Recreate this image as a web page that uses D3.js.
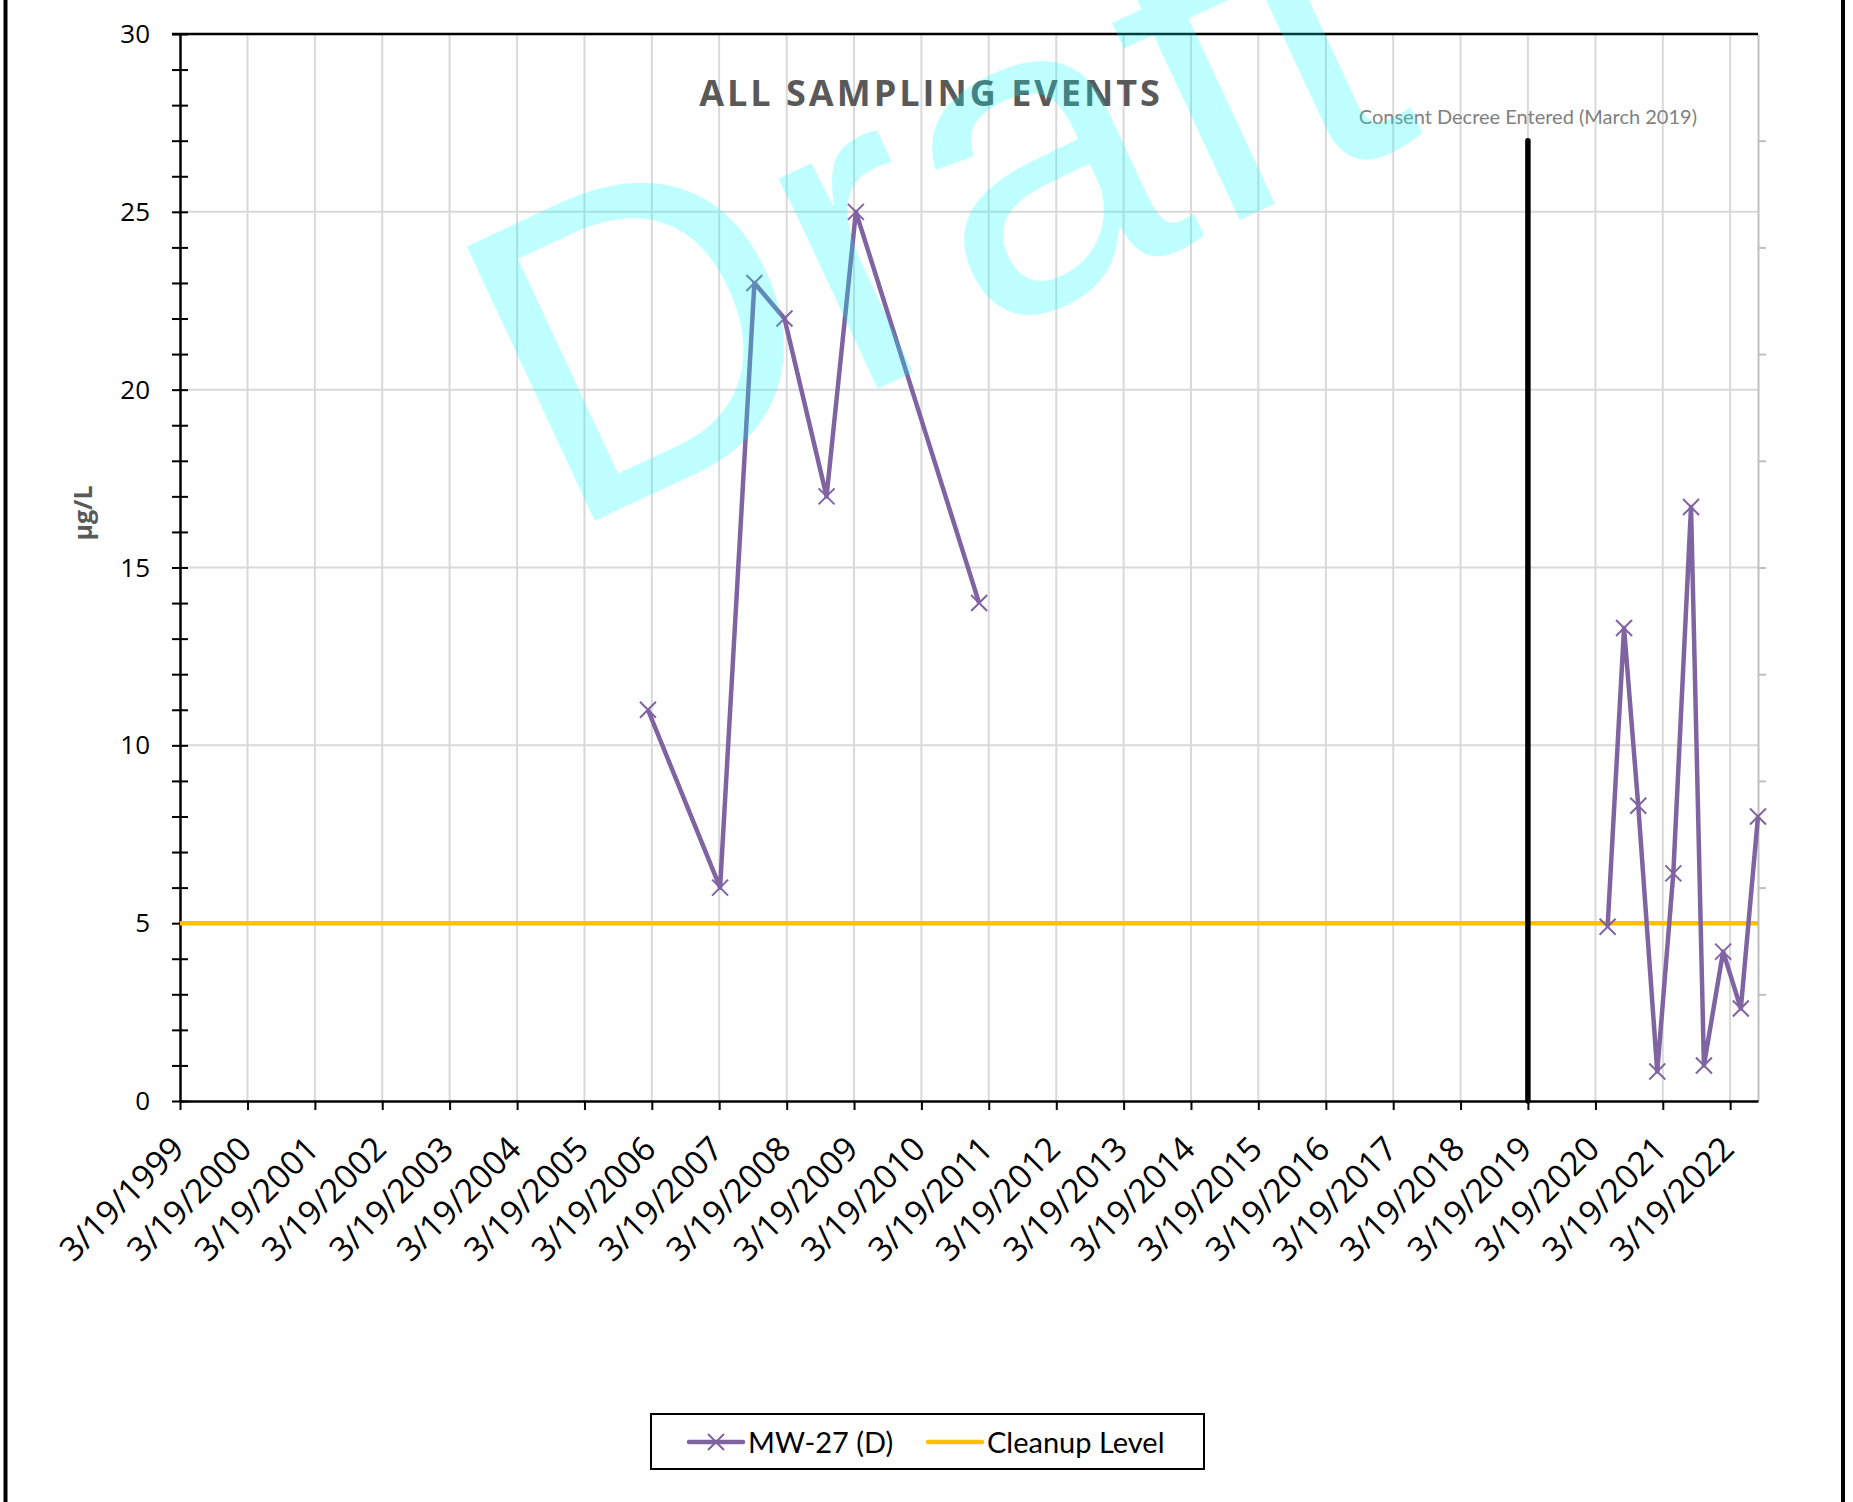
<!DOCTYPE html>
<html>
<head>
<meta charset="utf-8">
<script src="https://cdn.jsdelivr.net/npm/d3@7"></script>
<style>
  body { margin: 0; background: #fff; }
  svg { display: block; }
</style>
</head>
<body>
<div id="chart"></div>
<script>
// sampling events for MW-27 (D)
var sampleDates = ["2006-02-26", "2007-03-24", "2007-09-26", "2008-03-07", "2008-10-21", "2009-03-29", "2011-01-26",
                   "2020-05-24", "2020-08-21", "2020-11-06", "2021-02-17", "2021-05-15", "2021-08-19", "2021-10-28",
                   "2022-02-09", "2022-05-16", "2022-08-17"];
var sampleValues = [11, 6, 23, 22, 17, 25, 14,
                    4.9, 13.3, 8.3, 0.83, 6.4, 16.7, 1.0, 4.2, 2.6, 8.0];
var runStarts = [0, 7];   // line is broken between 2011 and 2020

var cleanupLevel = 5;
var consentDate = "2019-03-19";
var consentTop = 27;
var consentLabel = "Consent Decree Entered (March 2019)";

var tickYears = d3.range(1999, 2023);
var yTicks = [0, 5, 10, 15, 20, 25, 30];
var xStart = "1999-03-19", xEnd = "2022-08-17";

var parseDate = d3.timeParse("%Y-%m-%d");
var formatTick = d3.timeFormat("%-m/%-d/%Y");

var W = 1853, H = 1502;
var plotLeft = 180, plotRight = 1758, plotTop = 34, plotBottom = 1101;

var svg = d3.select("#chart").append("svg")
    .attr("width", W)
    .attr("height", H);

var x = d3.scaleTime()
    .domain([parseDate(xStart), parseDate(xEnd)])
    .range([plotLeft, plotRight]);

var y = d3.scaleLinear()
    .domain([0, 30])
    .range([plotBottom, plotTop]);

var tickDates = tickYears.map(function(yr) { return new Date(yr, 2, 19); });

// gridlines
svg.append("g").selectAll("line")
    .data(tickDates.slice(1))
    .enter().append("line")
    .attr("x1", function(d) { return x(d); })
    .attr("x2", function(d) { return x(d); })
    .attr("y1", plotTop).attr("y2", plotBottom)
    .attr("stroke", "#d9d9d9").attr("stroke-width", 2);

svg.append("g").selectAll("line")
    .data(yTicks.slice(1, -1))
    .enter().append("line")
    .attr("x1", plotLeft).attr("x2", plotRight)
    .attr("y1", function(d) { return y(d); })
    .attr("y2", function(d) { return y(d); })
    .attr("stroke", "#d9d9d9").attr("stroke-width", 2);

// secondary axis on the right (grey)
var rightAxis = svg.append("g")
    .attr("transform", "translate(" + plotRight + ",0)")
    .call(d3.axisRight(y).tickValues(d3.range(3, 30, 3)).tickFormat("").tickSize(8).tickSizeOuter(0));
rightAxis.selectAll("line, path").attr("stroke", "#bfbfbf").attr("stroke-width", 2);

// top border
svg.append("line")
    .attr("x1", plotLeft - 8).attr("x2", plotRight)
    .attr("y1", plotTop).attr("y2", plotTop)
    .attr("stroke", "#000").attr("stroke-width", 2.5);

// y axis
var yAxis = svg.append("g")
    .attr("transform", "translate(" + plotLeft + ",0)")
    .call(d3.axisLeft(y).tickValues(d3.range(0, 31, 1)).tickSize(0).tickFormat(""));
yAxis.select(".domain").attr("stroke", "#000").attr("stroke-width", 2.5);
yAxis.selectAll(".tick line")
    .attr("x1", -8).attr("x2", 8)
    .attr("stroke", "#000").attr("stroke-width", 2);

svg.append("g").selectAll("text")
    .data(yTicks)
    .enter().append("text")
    .attr("x", 150)
    .attr("y", function(d) { return y(d); })
    .attr("dy", "0.35em")
    .attr("text-anchor", "end")
    .style("font-family", "'Open Sans', sans-serif")
    .style("font-size", "26px")
    .text(function(d) { return d; });

// x axis
var xAxis = svg.append("g")
    .attr("transform", "translate(0," + plotBottom + ")")
    .call(d3.axisBottom(x).tickValues(tickDates).tickSize(9).tickSizeOuter(0).tickFormat(""));
xAxis.select(".domain").attr("stroke", "#000").attr("stroke-width", 2.5);
xAxis.selectAll(".tick line").attr("stroke", "#000").attr("stroke-width", 2);

svg.append("g").selectAll("text")
    .data(tickDates)
    .enter().append("text")
    .attr("transform", function(d) { return "translate(" + (x(d) + 6) + "," + (plotBottom + 50) + ") rotate(-45)"; })
    .attr("text-anchor", "end")
    .style("font-family", "'Open Sans', sans-serif")
    .style("font-size", "33.5px")
    .text(function(d) { return formatTick(d); });

// cleanup level
svg.append("line")
    .attr("x1", x.range()[0]).attr("x2", x.range()[1])
    .attr("y1", y(cleanupLevel)).attr("y2", y(cleanupLevel))
    .attr("stroke", "#ffc000").attr("stroke-width", 4.5);

// consent decree
svg.append("line")
    .attr("x1", x(parseDate(consentDate))).attr("x2", x(parseDate(consentDate)))
    .attr("y1", y(consentTop)).attr("y2", y(0))
    .attr("stroke", "#000").attr("stroke-width", 5.5)
    .attr("stroke-linecap", "round");

svg.append("text")
    .attr("x", x(parseDate(consentDate)))
    .attr("y", 124)
    .attr("text-anchor", "middle")
    .attr("fill", "#808080")
    .style("font-family", "Lato, sans-serif")
    .style("font-size", "20px")
    .text(consentLabel);

// sample series
var samples = sampleDates.map(function(d, i) {
    return {date: parseDate(d), value: sampleValues[i]};
});
var runs = runStarts.map(function(s, i) {
    return samples.slice(s, runStarts[i + 1] || samples.length);
});

var line = d3.line()
    .x(function(d) { return x(d.date); })
    .y(function(d) { return y(d.value); });

svg.append("g").selectAll("path")
    .data(runs)
    .enter().append("path")
    .attr("d", line)
    .attr("fill", "none")
    .attr("stroke", "#8064a2")
    .attr("stroke-width", 4.5)
    .attr("stroke-linejoin", "round");

var m = 8;
svg.append("g").selectAll("path")
    .data(samples)
    .enter().append("path")
    .attr("d", function(d) {
        var cx = x(d.date), cy = y(d.value);
        return "M" + (cx - m) + "," + (cy - m) + "L" + (cx + m) + "," + (cy + m) +
               "M" + (cx - m) + "," + (cy + m) + "L" + (cx + m) + "," + (cy - m);
    })
    .attr("stroke", "#8064a2")
    .attr("stroke-width", 2);

// titles
svg.append("text")
    .attr("x", 931)
    .attr("y", 106)
    .attr("text-anchor", "middle")
    .attr("fill", "#595959")
    .style("font-family", "'Open Sans', sans-serif")
    .style("font-weight", "bold")
    .style("font-size", "36px")
    .style("letter-spacing", "3px")
    .text("ALL SAMPLING EVENTS");

svg.append("text")
    .attr("transform", "translate(92,513) rotate(-90)")
    .attr("text-anchor", "middle")
    .attr("fill", "#595959")
    .style("font-family", "'Open Sans', sans-serif")
    .style("font-weight", "bold")
    .style("font-size", "25px")
    .text("µg/L");

// legend
var legend = svg.append("g");
legend.append("rect")
    .attr("x", 651).attr("y", 1414)
    .attr("width", 553).attr("height", 55)
    .attr("fill", "#fff").attr("stroke", "#000").attr("stroke-width", 2);
legend.append("line")
    .attr("x1", 689).attr("x2", 743).attr("y1", 1442).attr("y2", 1442)
    .attr("stroke", "#8064a2").attr("stroke-width", 4.5).attr("stroke-linecap", "round");
legend.append("path")
    .attr("d", "M708,1434L724,1450M708,1450L724,1434")
    .attr("stroke", "#8064a2").attr("stroke-width", 2);
legend.append("text")
    .attr("x", 748).attr("y", 1453)
    .style("font-family", "Lato, sans-serif").style("font-size", "29px")
    .text("MW-27 (D)");
legend.append("line")
    .attr("x1", 928).attr("x2", 982).attr("y1", 1442).attr("y2", 1442)
    .attr("stroke", "#ffc000").attr("stroke-width", 4.5).attr("stroke-linecap", "round");
legend.append("text")
    .attr("x", 987).attr("y", 1453)
    .style("font-family", "Lato, sans-serif").style("font-size", "29px")
    .text("Cleanup Level");

// outer frame (left / right edges visible)
svg.append("line").attr("x1", 5.5).attr("x2", 5.5).attr("y1", 0).attr("y2", H)
    .attr("stroke", "#000").attr("stroke-width", 4);
svg.append("line").attr("x1", 1843).attr("x2", 1843).attr("y1", 0).attr("y2", H)
    .attr("stroke", "#000").attr("stroke-width", 4);

// watermark on top
svg.append("text")
    .attr("transform", "translate(562,536) rotate(-25)")
    .attr("fill", "#00ffff")
    .attr("fill-opacity", 0.25)
    .style("font-family", "'Liberation Sans', Arial, sans-serif")
    .style("font-size", "440px")
    .text("Draft");
</script>
</body>
</html>
